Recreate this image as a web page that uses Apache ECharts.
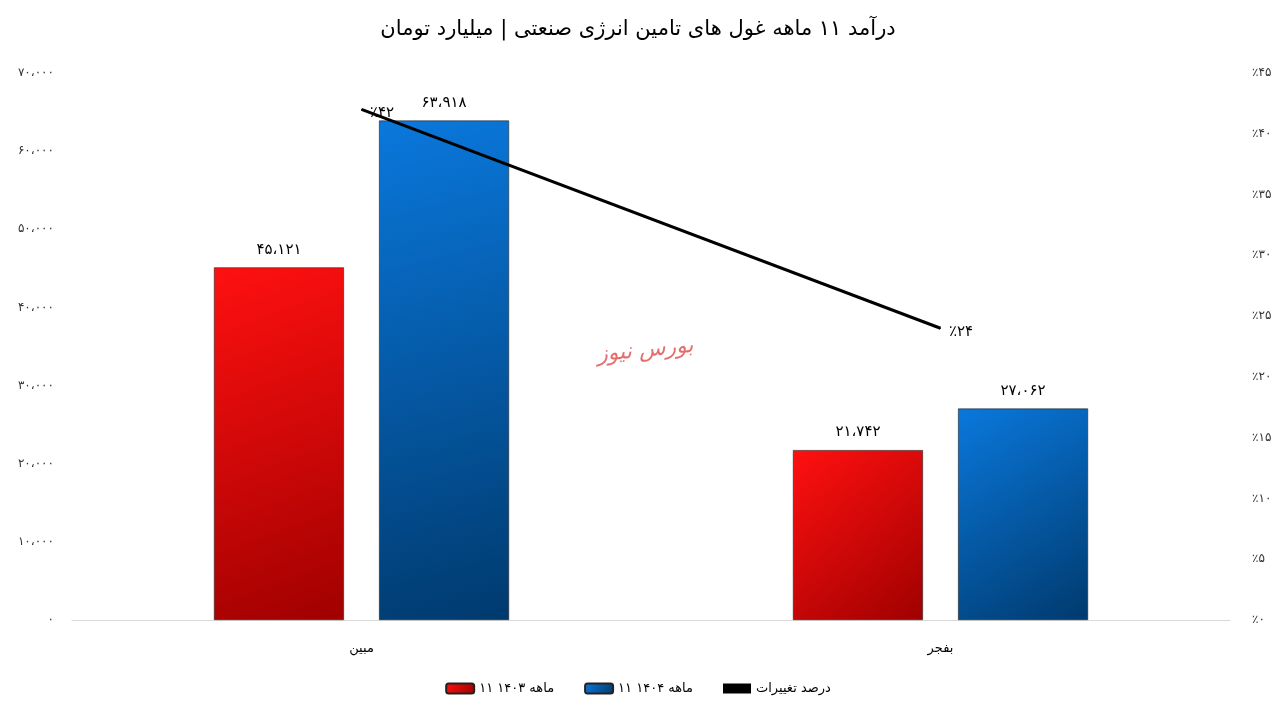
<!DOCTYPE html>
<html><head><meta charset="utf-8">
<script src="https://cdn.jsdelivr.net/npm/echarts@6/dist/echarts.min.js"></script>
<style>html,body{margin:0;padding:0;background:#fff}#c{width:1276px;height:708px}</style>
</head><body><div id="c"></div>
<script>
const categories = ['مبین', 'بفجر'];
const rev1403 = [45121, 21742];
const rev1404 = [63918, 27062];
const changePct = [42, 24];
const leftTicks = [0, 10000, 20000, 30000, 40000, 50000, 60000, 70000];
const rightTicks = [0, 5, 10, 15, 20, 25, 30, 35, 40, 45];

function fa(s){return String(s).replace(/\d/g,d=>'۰۱۲۳۴۵۶۷۸۹'[d]);}
function faNum(n){return fa(n.toString().replace(/\B(?=(\d{3})+(?!\d))/g,'،'));}
const font = "'DejaVu Sans', 'Noto Sans', sans-serif";
function grad(a,b){return new echarts.graphic.LinearGradient(0,0,1,1,[{offset:0,color:a},{offset:1,color:b}]);}

const chart = echarts.init(document.getElementById('c'));
chart.setOption({
  textStyle:{fontFamily:font},
  title:{text:'درآمد ۱۱ ماهه غول های تامین انرژی صنعتی | میلیارد تومان',left:'center',top:14,
    textStyle:{fontSize:21,fontWeight:'normal',color:'#000',fontFamily:font}},
  graphic:[{type:'text',left:596,top:335,rotation:0.1,style:{text:'بورس نیوز',fill:'rgba(220,60,60,0.75)',font:'italic 22px '+font}}],
  legend:{bottom:8,itemGap:30,textStyle:{fontSize:13,color:'#000'},
    data:[{name:'۱۱ ماهه ۱۴۰۳'},{name:'۱۱ ماهه ۱۴۰۴'},{name:'درصد تغییرات',icon:'rect',itemStyle:{color:'#000'}}],
    itemWidth:28,itemHeight:10},
  grid:{left:72,right:46,top:73,bottom:88},
  xAxis:{type:'category',data:categories,axisTick:{show:false},
    axisLine:{lineStyle:{color:'#d9d9d9'}},axisLabel:{color:'#000',fontSize:13,margin:22}},
  yAxis:[{type:'value',min:0,max:70000,interval:10000,splitLine:{show:false},
    axisLabel:{formatter:v=>faNum(v),color:'#333',fontSize:12,margin:18}},
   {type:'value',min:0,max:45,interval:5,splitLine:{show:false},
    axisLabel:{formatter:v=>'٪'+fa(v),color:'#333',fontSize:12,margin:22}}],
  series:[
   {name:'۱۱ ماهه ۱۴۰۳',type:'bar',data:rev1403,barWidth:130,barGap:'27%',
    itemStyle:{color:grad('#ff1010','#a00000'),borderColor:'#222',borderWidth:0.6},
    label:{show:true,position:'top',formatter:p=>faNum(p.value),color:'#000',fontSize:15,distance:10}},
   {name:'۱۱ ماهه ۱۴۰۴',type:'bar',data:rev1404,barWidth:130,
    itemStyle:{color:grad('#0a78dc','#003a6e'),borderColor:'#222',borderWidth:0.6},
    label:{show:true,position:'top',formatter:p=>faNum(p.value),color:'#000',fontSize:15,distance:10}},
   {name:'درصد تغییرات',type:'line',yAxisIndex:1,data:changePct,symbol:'circle',symbolSize:1,showSymbol:true,
    lineStyle:{color:'#000',width:3},itemStyle:{color:'#000'},z:5,
    label:{show:true,position:'right',distance:8,offset:[0,4],formatter:p=>'٪'+fa(p.value),color:'#000',fontSize:15}}
  ]
});
</script></body></html>
